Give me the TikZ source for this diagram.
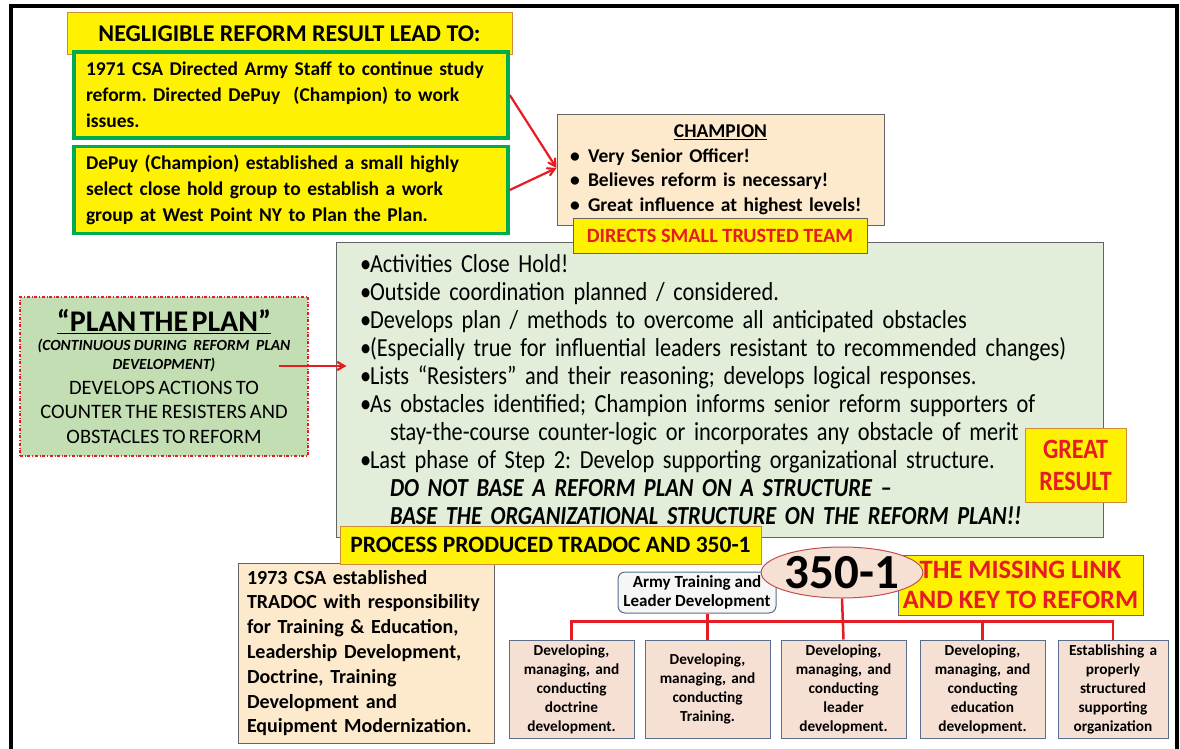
\documentclass[tikz,border=0pt]{standalone}
\usepackage{fontspec}
\setmainfont{Carlito}
\newfontfamily\narrowfont[FakeStretch=0.86]{Carlito}
\usetikzlibrary{arrows,positioning,shapes.geometric}
\definecolor{titleedge}{RGB}{205,140,60}
\definecolor{notegreen}{RGB}{0,170,80}
\definecolor{peach}{RGB}{253,234,204}
\definecolor{paleleaf}{RGB}{226,238,217}
\definecolor{leaf}{RGB}{196,222,180}
\definecolor{alarm}{RGB}{230,28,36}
\definecolor{rose}{RGB}{246,224,212}
\definecolor{slate}{RGB}{88,110,140}
\definecolor{edgegray}{RGB}{100,100,100}
\definecolor{brick}{RGB}{192,80,77}
\newcommand{\fsz}[2]{\fontsize{#1}{#2}\selectfont}
\newcommand{\blt}{\makebox[10pt][l]{\textbullet}}
\frenchspacing
\begin{document}
\begin{tikzpicture}[x=1pt,y=-1pt,>=angle 60,
  yellow box/.style={draw=titleedge,fill=yellow,line width=1pt,inner sep=0pt},
  green note/.style={draw=notegreen,fill=yellow,line width=3.5pt,inner sep=0pt,
    minimum width=434pt,text width=410pt,align=left,font=\bfseries\fsz{19.5}{26}},
  peach box/.style={draw=edgegray,fill=peach,line width=1pt,inner sep=0pt},
  tree box/.style={draw=slate,fill=rose,line width=1pt,inner sep=0pt,minimum width=125pt,
    minimum height=98pt,text width=123pt,align=center,font=\bfseries\fsz{15.3}{19}},
  red link/.style={draw=alarm,line width=2.5pt},
  red arrow/.style={->,draw=alarm,line width=2.2pt}]
\useasboundingbox (0,0) rectangle (1180,749);
\draw[line width=4pt] (11,749) -- (11,6) -- (1177,6) -- (1177,749);

% top left notes
\node[yellow box,minimum width=445pt,minimum height=42pt,font=\bfseries\fsz{24}{28}] (title) at (289.5,34) {NEGLIGIBLE REFORM RESULT LEAD TO:};
\node[green note,minimum height=86pt] (csa) at (291,95) {1971 CSA Directed Army Staff to continue study\\reform. Directed DePuy\ \ (Champion) to work\\issues.};
\node[green note,minimum height=87pt,below=5pt of csa] (depuy) {DePuy (Champion) established a small highly\\select close hold group to establish a work\\group at West Point NY to Plan the Plan.};

% champion
\node[peach box,minimum width=327pt,minimum height=110pt,inner xsep=13pt,text width=301pt,align=left,font=\bfseries\fsz{19.5}{24.5}] (champ) at (720.5,170)
  {\makebox[301pt]{\underline{CHAMPION}}\\\makebox[18pt][l]{\textbullet}Very Senior Officer!\\\makebox[18pt][l]{\textbullet}Believes reform is necessary!\\\makebox[18pt][l]{\textbullet}Great influence at highest levels!};

% plan the plan steps
\node[draw=edgegray,fill=paleleaf,line width=1pt,minimum width=767pt,minimum height=295pt,inner sep=0pt,inner xsep=24pt,text width=719pt,align=left,font=\narrowfont\fsz{26}{28}] (steps) at (719.5,389.5)
  {\blt Activities Close Hold!\\
   \blt Outside coordination planned / considered.\\
   \blt Develops plan / methods to overcome all anticipated obstacles\\
   \blt (Especially true for influential leaders resistant to recommended changes)\\
   \blt Lists “Resisters” and their reasoning; develops logical responses.\\
   \blt As obstacles identified; Champion informs senior reform supporters of\\
   \hspace*{30pt}stay-the-course counter-logic or incorporates any obstacle of merit\\
   \blt Last phase of Step 2: Develop supporting organizational structure.\\
   \hspace*{30pt}\textbf{\textit{DO NOT BASE A REFORM PLAN ON A STRUCTURE –}}\\
   \hspace*{30pt}\textbf{\textit{BASE THE ORGANIZATIONAL STRUCTURE ON THE REFORM PLAN!!}}};
\node[yellow box,draw=edgegray,minimum width=294pt,minimum height=35pt,text=alarm,font=\bfseries\fsz{20.3}{24}] (team) at (720,235.5) {DIRECTS SMALL TRUSTED TEAM};
\node[yellow box,minimum width=101pt,minimum height=74pt,align=center,text=alarm,font=\narrowfont\bfseries\fsz{28}{32}] (great) at (1075.5,465) {GREAT\\RESULT};

\node[draw=alarm,dash dot,line width=1.5pt,fill=leaf,minimum width=288pt,minimum height=159pt,inner sep=0pt,text width=284pt,align=center] (plan) at (164,376.5)
  {{\bfseries\fsz{30}{34}\underline{“PLAN THE PLAN”}\par}
   {\bfseries\itshape\fsz{15.5}{19}(CONTINUOUS DURING\ \ REFORM\ \ PLAN\\DEVELOPMENT)\par}
   {\fsz{20.5}{24.5}DEVELOPS ACTIONS TO\\COUNTER THE RESISTERS AND\\OBSTACLES TO REFORM\par}};

\draw[red arrow] (csa.east) -- ([yshift=2pt]champ.west);
\draw[red arrow] (depuy.east) -- ([yshift=2pt]champ.west);
\coordinate (pa) at ([xshift=-30pt,yshift=10.5pt]plan.east);
\draw[red arrow] (pa) -- ([xshift=11pt]pa -| steps.west);

% tradoc and 350-1
\node[peach box,minimum width=256pt,minimum height=180pt,inner xsep=9pt,text width=238pt,align=left,font=\bfseries\fsz{20}{24.8}] (tradoc) at (366,653)
  {1973 CSA established\\TRADOC with responsibility\\for Training \& Education,\\Leadership Development,\\Doctrine, Training\\Development and\\Equipment Modernization.};
\node[yellow box,minimum width=421pt,minimum height=38pt,font=\bfseries\fsz{23.5}{26}] (process) at (550.5,545) {PROCESS PRODUCED TRADOC AND 350-1};

\node[tree box] (b1) at (571.5,689) {Developing,\\managing, and\\conducting\\doctrine\\development.};
\node[tree box] (b2) at (707.5,689) {Developing,\\managing, and\\conducting\\Training.};
\node[tree box] (b3) at (843.5,689) {Developing,\\managing, and\\conducting\\leader\\development.};
\node[tree box] (b4) at (982.5,689) {Developing,\\managing, and\\conducting\\education\\development.};
\node[tree box,minimum width=110pt,text width=108pt] (b5) at (1113,689) {Establishing a\\properly\\structured\\supporting\\organization};

\node[draw=slate,fill=gray!7,rounded corners=7pt,line width=1pt,minimum width=158pt,minimum height=41pt,inner sep=0pt,align=center,font=\bfseries\fsz{17}{19.5}] (army) at (697,592.5) {Army Training and\\Leader Development};
\node[yellow box,draw=slate,minimum width=245pt,minimum height=60pt,align=center,text=alarm,font=\bfseries\fsz{26.5}{30}] (missing) at (1020.5,585) {THE MISSING LINK\\AND KEY TO REFORM};
\node[ellipse,draw=brick,fill=rose,line width=1pt,minimum width=154pt,minimum height=51pt,inner sep=0pt,font=\bfseries\fsz{49}{50}] (code) at (842,572.5) {350-1};

\draw[red link] (b1.north) -- ++(0,-18) -| (b5.north);
\draw[red link] (army.south -| b2.north) -- (b2.north);
\draw[red link] (code.south) -- (b3.north);
\draw[red link] (b4.north) -- ++(0,-18);
\end{tikzpicture}
\end{document}
